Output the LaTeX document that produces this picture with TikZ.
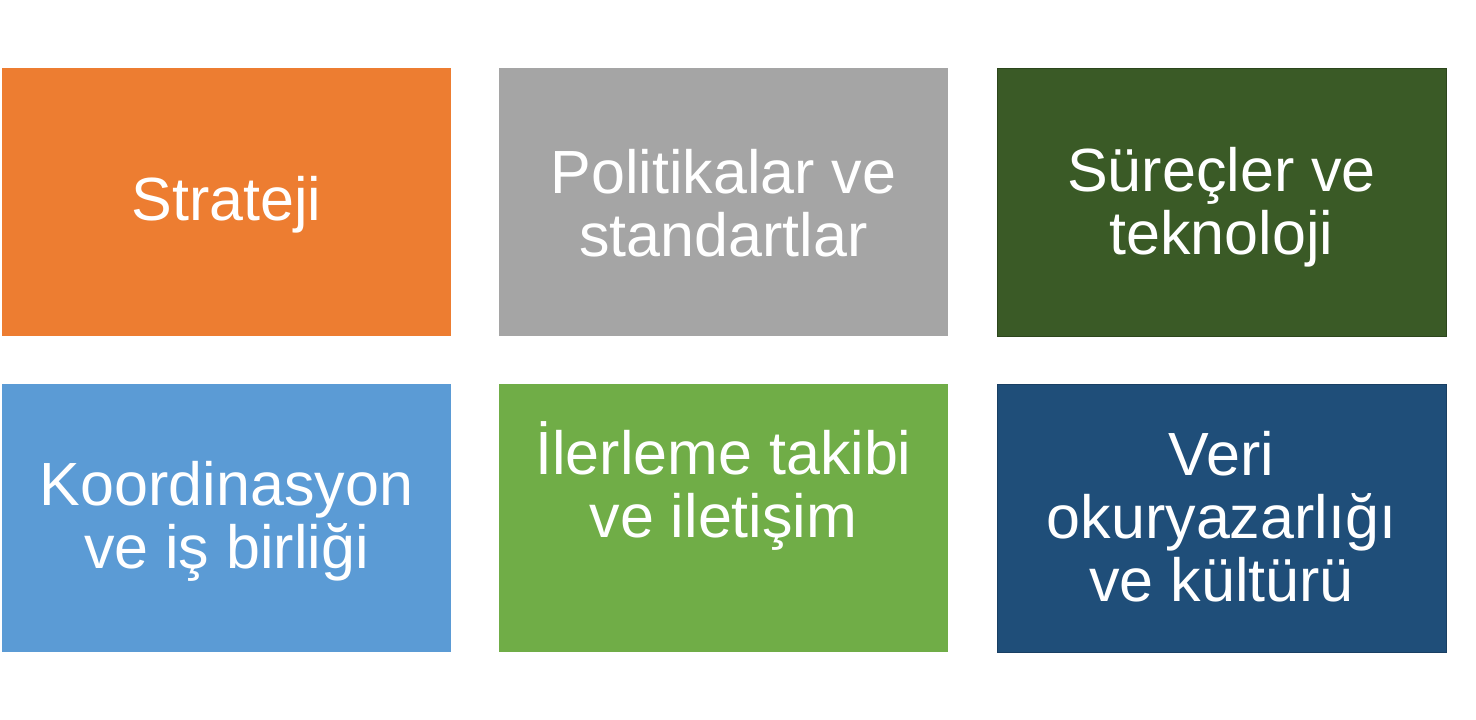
\documentclass[tikz,border=0pt]{standalone}
\usepackage{fontspec}
\setmainfont{Liberation Sans}
\definecolor{cOrange}{HTML}{ED7D31}
\definecolor{cGray}{HTML}{A5A5A5}
\definecolor{cDkGreen}{HTML}{3A5A26}
\definecolor{cDkGreenLine}{HTML}{2C461C}
\definecolor{cBlue}{HTML}{5B9BD5}
\definecolor{cGreen}{HTML}{70AD47}
\definecolor{cDkBlue}{HTML}{1F4E79}
\definecolor{cDkBlueLine}{HTML}{193F63}
\begin{document}
\begin{tikzpicture}[x=1pt,y=-1pt,
  tile/.style={rectangle, minimum width=449pt, minimum height=268pt, inner sep=0pt, outer sep=0pt},
  tiletext/.style={text=white, align=center, inner sep=0pt, font=\fontsize{61}{63}\selectfont}]
\useasboundingbox[fill=white] (0,0) rectangle (1476,720);
\node[tile, fill=cOrange] (b1) at (226.5,202) {};
\node[tile, fill=cGray] (b2) at (723.5,202) {};
\node[tile, fill=cDkGreen, draw=cDkGreenLine, line width=1pt] (b3) at (1221.5,202) {};
\node[tile, fill=cBlue] (b4) at (226.5,518) {};
\node[tile, fill=cGreen] (b5) at (723.5,518) {};
\node[tile, fill=cDkBlue, draw=cDkBlueLine, line width=1pt] (b6) at (1221.5,518) {};
\node[tiletext, yshift=-3pt] (t1) at (b1.center) {Strateji};
\node[tiletext, yshift=-1pt] (t2) at (b2.center) {Politikalar ve\\standartlar};
\node[tiletext, yshift=-5pt] (t3) at (b3.center) {Süreçler ve\\teknoloji};
\node[tiletext, yshift=-3pt] (t4) at (b4.center) {Koordinasyon\\ve iş birliği};
\node[tiletext, yshift=32pt] (t5) at (b5.center) {İlerleme takibi\\ve iletişim};
\node[tiletext, yshift=1pt] (t6) at (b6.center) {Veri\\okuryazarlığı\\ve kültürü};
\end{tikzpicture}
\end{document}
